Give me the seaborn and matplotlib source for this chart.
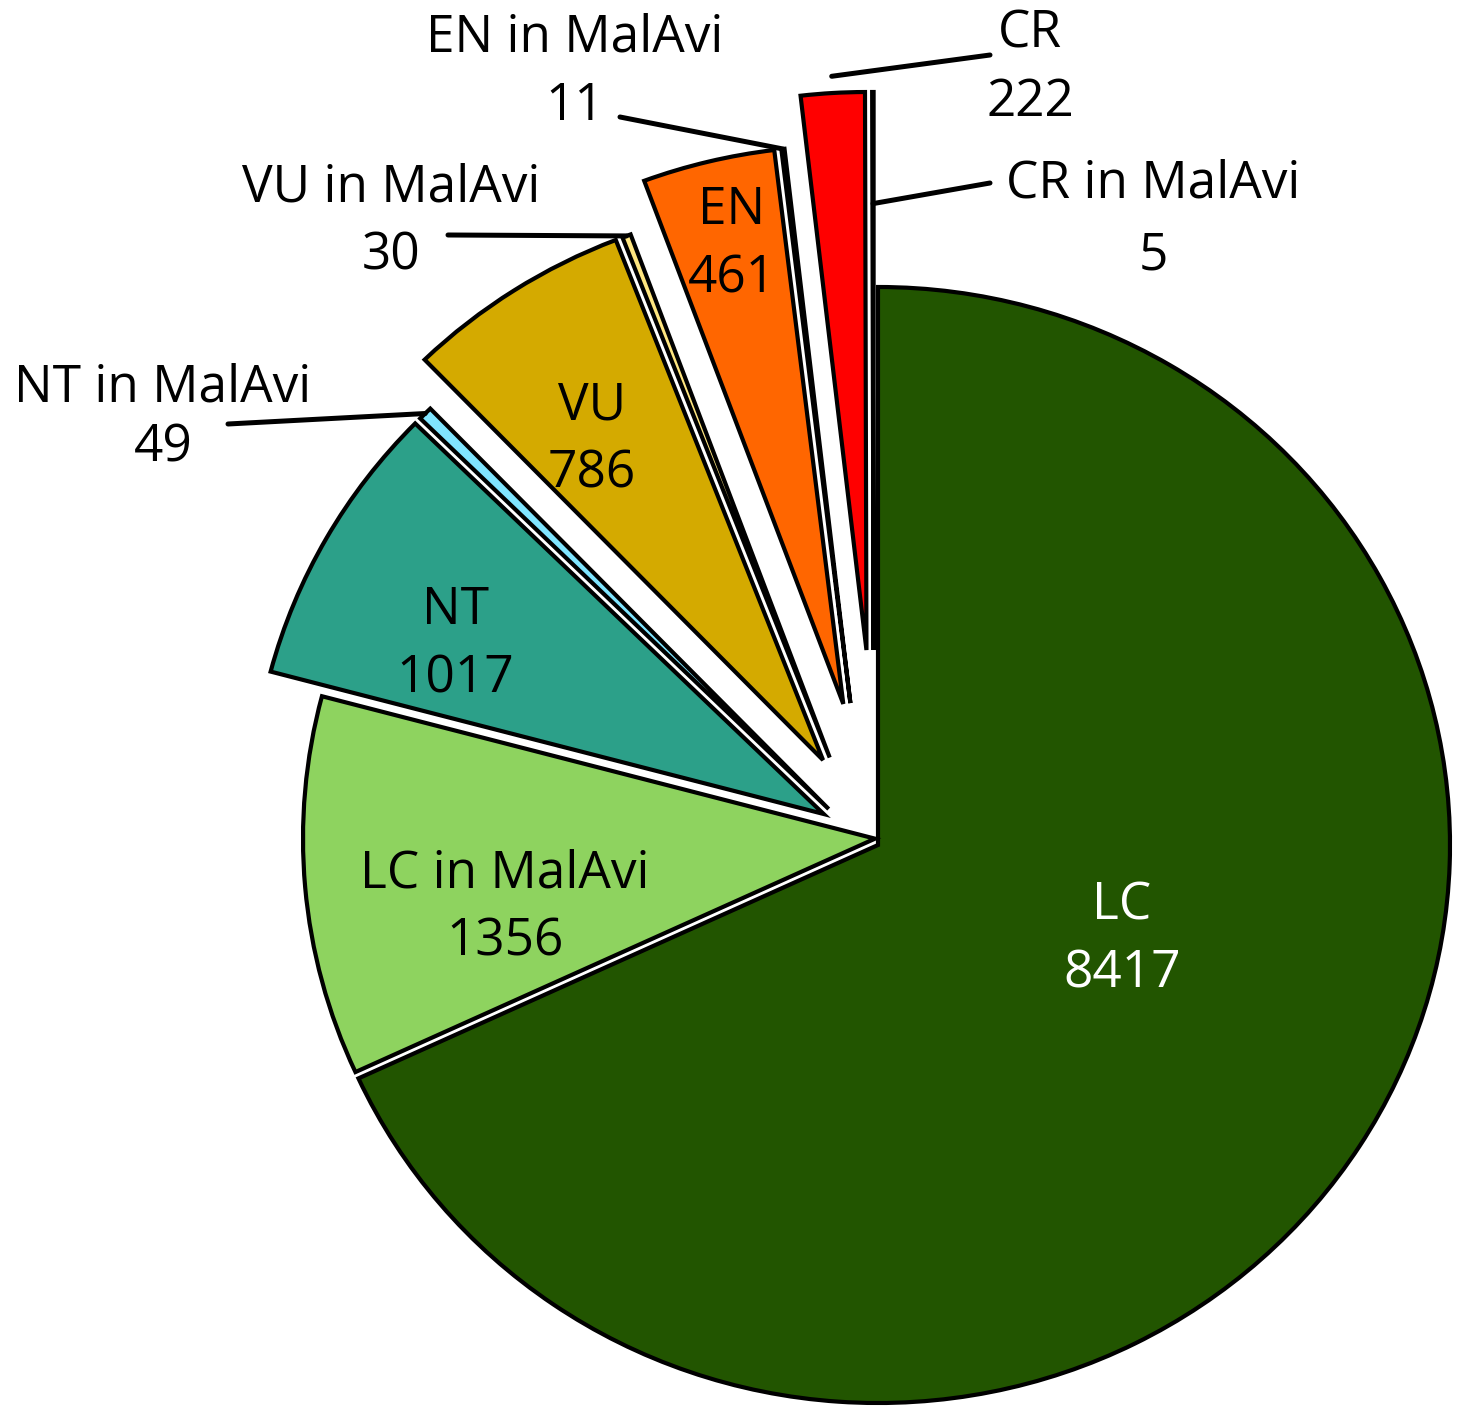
import numpy as np
import matplotlib.pyplot as plt
import seaborn as sns

# dane
labels = ['LC', 'LC in MalAvi', 'NT', 'NT in MalAvi', 'VU', 'VU in MalAvi',
          'EN', 'EN in MalAvi', 'CR', 'CR in MalAvi']
counts = [8417, 1356, 1017, 49, 786, 30, 461, 11, 222, 5]
groups = ['LC', 'LC', 'NT', 'NT', 'VU', 'VU', 'EN', 'EN', 'CR', 'CR']
colors = ['#225500', '#8ed35f', '#2ca089', '#80e5ff', '#d4aa00', '#ffe680',
          '#ff6600', '#ffb380', '#ff0000', '#ff8080']
group_explode = {'LC': 0.0, 'NT': 0.11, 'VU': 0.18, 'EN': 0.26, 'CR': 0.35}

sns.set_theme(style='white')
plt.rcParams['font.family'] = ['Open Sans', 'DejaVu Sans']
plt.rcParams['text.color'] = 'black'

W, H = 1460, 1407
fig = plt.figure(figsize=(W / 100, H / 100), dpi=100)
ax = fig.add_axes([0, 0, 1, 1])

wedges, _ = ax.pie(counts, colors=colors, startangle=90, counterclock=False,
                   wedgeprops=dict(edgecolor='black', linewidth=3))

# wysuniecie calych grup (kategoria + "in MalAvi") i waska szczelina w grupie
gap = 0.0125
for g, ex in group_explode.items():
    idx = [i for i, gg in enumerate(groups) if gg == g]
    t1 = min(wedges[i].theta1 for i in idx)
    t2 = max(wedges[i].theta2 for i in idx)
    mid = np.deg2rad((t1 + t2) / 2)
    for i in idx:
        dx, dy = ex * np.cos(mid), ex * np.sin(mid)
        if 'MalAvi' in labels[i]:
            phi = np.deg2rad(wedges[i].theta2)
            dx += gap * np.sin(phi)
            dy -= gap * np.cos(phi)
        wedges[i].set_center((dx, dy))
for w in wedges:
    w.set_clip_on(False)

# skala osi tak, by srodek i promien pasowaly do oryginalu
cx, cy, rx, ry = 878, 845, 572, 558
ax.set_aspect('auto')
ax.set_xlim(-cx / rx, (W - cx) / rx)
ax.set_ylim(-(H - cy) / ry, cy / ry)
ax.axis('off')


def fig_pos(px, py):
    return px / W, 1 - py / H


def wedge_point(w, r):
    mid = np.deg2rad((w.theta1 + w.theta2) / 2)
    x0, y0 = w.center
    return x0 + r * w.r * np.cos(mid), y0 + r * w.r * np.sin(mid)


fs = 37
ls = 1.45

# etykiety wewnatrz wycinkow
inside = {0: (1122, 940), 1: (505, 908), 2: (455, 645), 4: (592, 440), 6: (732, 245)}
for i, (px, py) in inside.items():
    fig.text(*fig_pos(px, py), f'{labels[i]}\n{counts[i]}', ha='center', va='center',
             fontsize=fs, linespacing=ls,
             color='white' if i == 0 else 'black')

# etykiety zewnetrzne z liniami
outside = {3: ((163, 418), (228, 424), 1.0, 1.25),
           5: ((391, 222), (448, 235), 1.0, ls),
           7: ((575, 72), (620, 117), 1.0, ls),
           8: ((1030, 68), (990, 55), 1.03, ls),
           9: ((1153, 220), (990, 183), 0.8, 1.55)}
for i, ((px, py), (lx, ly), r, lsp) in outside.items():
    fig.text(*fig_pos(px, py), f'{labels[i]}\n{counts[i]}', ha='center', va='center',
             fontsize=fs, linespacing=lsp)
    ax.annotate('', xy=wedge_point(wedges[i], r), xycoords='data',
                xytext=fig_pos(lx, ly), textcoords='figure fraction',
                arrowprops=dict(arrowstyle='-', lw=3.6, color='black',
                                shrinkA=0, shrinkB=0))

fig.savefig('out.png', dpi=100)
plt.close(fig)
